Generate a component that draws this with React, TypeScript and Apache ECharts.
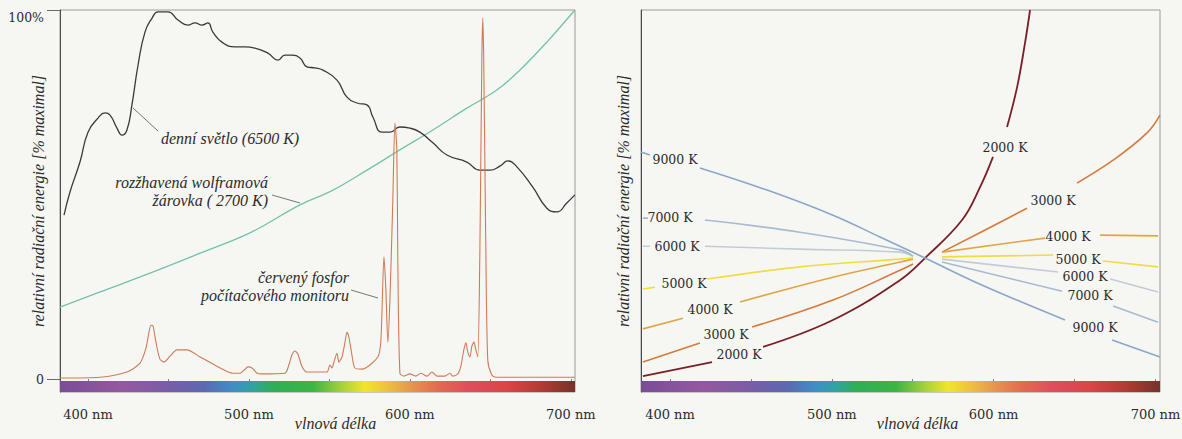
import React, { useEffect, useRef } from 'react';
import * as echarts from 'echarts';

// ---------- data ----------
const NM_TICKS = [400, 450, 500, 550, 600, 650, 700];
const NM_LABELS = [400, 500, 600, 700];
const Y_TICKS_LEFT = [0, 100];

// left panel: relative energy (% of maximum) vs wavelength (nm)
const DAYLIGHT: [number, number][] = [
  [385.1, 44.4], [388.8, 50.7], [395.0, 58.8], [400.0, 66.9], [406.2, 70.7], [410.6, 72.1],
  [413.7, 71.5], [418.0, 68.0], [421.1, 66.1], [424.2, 67.5], [427.3, 74.3], [431.1, 85.1],
  [435.4, 94.0], [439.8, 97.8], [443.5, 99.5], [449.7, 99.5], [455.9, 97.3], [462.1, 95.9],
  [466.5, 96.5], [470.8, 95.9], [474.5, 96.5], [477.6, 94.0], [483.2, 91.3], [491.3, 90.0],
  [497.5, 90.0], [503.7, 89.7], [511.8, 88.3], [518.0, 86.4], [522.4, 87.8], [526.7, 87.8],
  [531.7, 87.0], [536.0, 84.6], [541.0, 84.3], [546.0, 83.7], [554.7, 81.0], [560.9, 76.4],
  [567.1, 74.8], [573.3, 74.3], [577.0, 71.0], [582.6, 66.9], [587.6, 66.9], [593.8, 68.3],
  [600.0, 68.0], [606.2, 66.9], [614.3, 64.0], [623.0, 60.7], [635.4, 58.8], [643.5, 56.6],
  [649.7, 56.6], [655.9, 57.7], [660.9, 59.1], [666.5, 57.5], [676.4, 52.0], [685.1, 46.3],
  [691.3, 45.3], [697.5, 47.7], [702.5, 49.9],
];

const TUNGSTEN: [number, number][] = [
  [382.6, 19.5], [407.5, 23.6], [438.5, 28.7], [469.6, 34.1], [500.6, 39.6], [531.7, 47.2],
  [552.2, 51.2], [573.3, 56.6], [593.8, 62.1], [614.3, 67.5], [635.4, 73.4], [654.0, 78.3],
  [668.3, 83.7], [685.1, 91.3], [702.5, 100],
];

const PHOSPHOR: [number, number][] = [
  [382.6, 0.3], [407.5, 0.5], [424.2, 1.9], [432.3, 4.3], [436.0, 8.4], [437.9, 12.7],
  [439.1, 14.6], [440.4, 14.4], [442.2, 10.0], [444.7, 5.4], [447.2, 4.6], [450.9, 6.2],
  [455.3, 7.9], [461.5, 7.9], [469.6, 6.0], [480.1, 3.5], [490.1, 1.6], [494.4, 1.6],
  [496.9, 2.4], [499.4, 3.3], [501.9, 3.0], [505.0, 1.6], [508.1, 1.4], [522.4, 1.6],
  [524.8, 3.8], [526.7, 6.5], [528.6, 7.6], [530.4, 6.8], [532.9, 3.5], [536.0, 1.9],
  [548.4, 1.9], [550.3, 3.8], [551.6, 3.0], [552.8, 4.6], [554.7, 7.0], [555.9, 4.6],
  [557.8, 6.0], [559.6, 9.8], [560.9, 12.7], [562.1, 11.4], [564.0, 6.5], [565.8, 3.0],
  [570.2, 2.7], [580.1, 6.0], [582.0, 10.6], [583.9, 33.1], [585.1, 24.1], [586.3, 10.0],
  [587.6, 21.4], [589.4, 48.5], [590.7, 69.4], [591.9, 62.1], [592.5, 32.2], [593.8, 1.6],
  [596.3, 0.8], [600.0, 1.4], [603.7, 0.8], [606.8, 1.6], [610.6, 0.8], [613.7, 1.9],
  [616.8, 0.8], [621.7, 0.8], [624.8, 1.6], [626.7, 0.8], [629.8, 1.4], [631.7, 3.5],
  [633.5, 7.9], [634.8, 9.8], [636.0, 7.3], [637.3, 6.0], [638.5, 8.9], [639.8, 10.0],
  [641.0, 7.9], [642.2, 6.0], [643.5, 35.0], [644.7, 86.4], [645.3, 97.8], [645.9, 86.4],
  [647.2, 35.0], [648.4, 5.1], [650.9, 1.1], [653.4, 0.5], [702.5, 0.5],
];

// right panel: black-body curves (relative), null = gap in the drawn line
type P = [number, number] | null;
const BB_2000: P[] = [
  [383.3, 0.8], [426.0, 4.6], null, [457.5, 8.7], [500.7, 16.0], [542.1, 26.8], [557.6, 32.8],
  [580.5, 43.1], [591.6, 52.0], [599.6, 60.2], null, [608.3, 68.3], [614.5, 79.1], [619.4, 91.1], [622.5, 100],
];
const BB_3000: P[] = [
  [383.3, 4.6], [418.5, 9.8], null, [450.7, 14.1], [500.7, 21.4], [542.1, 29.5], [550.2, 31.2], null,
  [568.1, 34.4], [604.0, 42.5], [620.6, 46.3], null, [651.5, 53.1], [673.8, 59.3], [694.8, 66.7], [702.8, 71.5],
];
const BB_4000: P[] = [
  [383.3, 13.6], [408.0, 16.5], null, [443.3, 20.9], [500.7, 27.6], [542.1, 31.7], [550.2, 32.5], null,
  [568.1, 34.4], [631.8, 38.2], null, [665.8, 39.0], [701.6, 38.8],
];
const BB_5000: P[] = [
  [383.3, 24.4], [390.7, 24.9], null, [422.9, 27.1], [480.3, 30.4], [542.1, 32.5], [550.2, 32.8], null,
  [568.1, 33.1], [636.7, 33.6], null, [667.6, 32.0], [701.6, 30.4],
];
const BB_6000: P[] = [
  [383.3, 36.0], [387.6, 36.0], null, [421.6, 36.0], [480.3, 35.2], [542.1, 34.4], [550.2, 33.3], null,
  [568.1, 32.5], [639.8, 29.0], null, [672.0, 27.1], [701.6, 23.6],
];
const BB_7000: P[] = [
  [383.3, 43.6], [386.4, 43.6], null, [421.6, 43.1], [480.3, 39.8], [542.1, 35.0], [550.2, 33.3], null,
  [568.1, 31.7], [642.3, 23.8], null, [673.8, 19.8], [701.6, 15.4],
];
const BB_9000: P[] = [
  [382.1, 61.5], [387.6, 60.7], null, [418.5, 57.2], [460.0, 51.2], [500.7, 44.4], [529.8, 38.5],
  [557.6, 32.8], [591.6, 25.7], [644.1, 16.0], null, [673.2, 10.6], [702.8, 6.0],
];

const SPECTRUM: [number, string][] = [
  [382, '#7a4c98'], [420, '#94599f'], [450, '#7a5ca6'], [472, '#5c69b1'], [490, '#3f8ec6'],
  [503, '#30a4a0'], [515, '#2daf55'], [540, '#3db545'], [558, '#a8d23a'], [572, '#f2e52c'],
  [588, '#ecbb42'], [602, '#e6924e'], [618, '#e26a50'], [638, '#df4c5c'], [660, '#da4546'],
  [682, '#b13b34'], [703, '#74332a'],
];

// ---------- component ----------
const SERIF = 'DejaVu Serif';
const ITALIC = 'Liberation Serif';
const TXT = '#2b2b2b';

export default function App() {
  const ref = useRef<HTMLDivElement>(null);
  useEffect(() => {
    if (!ref.current) return;
    const chart = echarts.init(ref.current, null, { renderer: 'svg' });
    const L = { min: 382.6, max: 702.6 };
    const R = { min: 382.1, max: 702.8 };
    const grad = (r: { min: number; max: number }) =>
      new echarts.graphic.LinearGradient(0, 0, 1, 0,
        SPECTRUM.map(([nm, c]) => ({ offset: Math.min(1, Math.max(0, (nm - r.min) / (r.max - r.min))), color: c })));
    const xAxisBase = (r: { min: number; max: number }, idx: number, namePad: number) => ({
      type: 'value', gridIndex: idx, min: r.min, max: r.max, offset: 4,
      axisLine: { show: false },
      splitLine: { show: false },
      axisTick: { show: true, customValues: NM_TICKS, length: 9, lineStyle: { color: '#7a7a7a', width: 1 } },
      axisLabel: { customValues: NM_LABELS, formatter: (v: number) => `${v} nm`, margin: 12,
        fontFamily: SERIF, fontSize: 13, color: TXT },
      name: 'vlnová délka', nameLocation: 'middle', nameGap: 19, nameMoveOverlap: false,
      nameTextStyle: { fontFamily: ITALIC, fontStyle: 'italic', fontSize: 16, color: TXT, padding: [0, 0, 0, namePad] },
    });
    const yName = 'relativní radiační energie [% maximal]';
    const bbLine = (data: P[], color: string, width = 1.6) => ({
      type: 'line', xAxisIndex: 1, yAxisIndex: 1, data, smooth: 0.4, showSymbol: false, connectNulls: false,
      lineStyle: { color, width }, silent: true,
    });
    const tLabel = (text: string, x: number, y: number) => ({
      type: 'text', x, y,
      style: { text, fill: TXT, fontFamily: SERIF, fontSize: 12.5, align: 'center', verticalAlign: 'middle' },
    });
    const note = (text: string, x: number, y: number, align: string) => ({
      type: 'text', x, y,
      style: { text, fill: TXT, fontFamily: ITALIC, fontStyle: 'italic', fontSize: 16, align, verticalAlign: 'middle', lineHeight: 18 },
    });
    const leader = (x1: number, y1: number, x2: number, y2: number) => ({
      type: 'line', shape: { x1, y1, x2, y2 }, style: { stroke: '#555', lineWidth: 0.8 },
    });
    chart.setOption({
      animation: false,
      backgroundColor: '#f6f7f3',
      grid: [
        { left: 60, top: 10, width: 515, height: 382, show: true, borderColor: '#9a9a9a', borderWidth: 1, containLabel: false, outerBoundsMode: 'none' },
        { left: 641, top: 10, width: 519, height: 382, show: true, borderColor: '#9a9a9a', borderWidth: 1, containLabel: false, outerBoundsMode: 'none' },
      ],
      xAxis: [xAxisBase(L, 0, 36), xAxisBase(R, 1, 34)],
      yAxis: [
        {
          type: 'value', gridIndex: 0, min: -3.5, max: 100,
          axisLine: { show: true, lineStyle: { color: '#4a4a4a', width: 1 } },
          splitLine: { show: false },
          axisTick: { show: true, customValues: Y_TICKS_LEFT, length: 13, lineStyle: { color: '#6a6a6a' } },
          axisLabel: {
            customValues: Y_TICKS_LEFT, margin: 16,
            formatter: (v: number) => (v === 100 ? '{t|100%}' : '{z|0}'),
            rich: {
              t: { fontFamily: SERIF, fontSize: 12.5, color: TXT, lineHeight: 28, verticalAlign: 'bottom' },
              z: { fontFamily: SERIF, fontSize: 12.5, color: TXT },
            },
          },
          name: yName, nameLocation: 'middle', nameGap: 14, nameRotate: 90, nameMoveOverlap: false,
          nameTextStyle: { fontFamily: ITALIC, fontStyle: 'italic', fontSize: 16, color: TXT, padding: [0, 0, 0, 0] },
        },
        {
          type: 'value', gridIndex: 1, min: -3.5, max: 100,
          axisLine: { show: true, lineStyle: { color: '#4a4a4a', width: 1 } },
          splitLine: { show: false }, axisTick: { show: false }, axisLabel: { show: false },
          name: yName, nameLocation: 'middle', nameGap: 10, nameRotate: 90, nameMoveOverlap: false,
          nameTextStyle: { fontFamily: ITALIC, fontStyle: 'italic', fontSize: 16, color: TXT, padding: [0, 0, 0, 0] },
        },
      ],
      series: [
        {
          type: 'line', xAxisIndex: 0, yAxisIndex: 0, data: TUNGSTEN, smooth: 0.4, showSymbol: false,
          lineStyle: { color: '#72c2ad', width: 1.3 }, silent: true,
          markArea: { silent: true, itemStyle: { color: grad(L) }, data: [[{ coord: [L.min, -0.55] }, { coord: [L.max, -3.5] }]] },
        },
        {
          type: 'line', xAxisIndex: 0, yAxisIndex: 0, data: DAYLIGHT, smooth: 0.5, showSymbol: false,
          lineStyle: { color: '#3a3a3a', width: 1.3 }, silent: true,
        },
        {
          type: 'line', xAxisIndex: 0, yAxisIndex: 0, data: PHOSPHOR, smooth: 0.25, showSymbol: false,
          lineStyle: { color: '#cf7a56', width: 1.1 }, silent: true,
        },
        {
          ...bbLine(BB_2000, '#7a1f24', 1.8),
          markArea: { silent: true, itemStyle: { color: grad(R) }, data: [[{ coord: [R.min, -0.55] }, { coord: [R.max, -3.5] }]] },
        },
        bbLine(BB_3000, '#d57a3c'),
        bbLine(BB_4000, '#e0a645'),
        bbLine(BB_5000, '#f0dc3a'),
        bbLine(BB_6000, '#c3ccd6'),
        bbLine(BB_7000, '#a8bad0'),
        bbLine(BB_9000, '#8aa6c8'),
      ],
      graphic: [
        note('denní světlo (6500 K)', 161, 138, 'left'),
        leader(133, 108, 158, 131),
        note('rozžhavená wolframová\nžárovka ( 2700 K)', 268, 191, 'right'),
        leader(272, 195, 300, 203),
        note('červený fosfor\npočítačového monitoru', 349, 286, 'right'),
        leader(351, 290, 378, 298),
        tLabel('9000 K', 675, 159),
        tLabel('7000 K', 670, 217),
        tLabel('6000 K', 677, 246),
        tLabel('5000 K', 684, 283),
        tLabel('4000 K', 710, 309),
        tLabel('3000 K', 726, 334),
        tLabel('2000 K', 739, 354),
        tLabel('2000 K', 1005, 147),
        tLabel('3000 K', 1053, 200),
        tLabel('4000 K', 1068, 236),
        tLabel('5000 K', 1078, 259),
        tLabel('6000 K', 1085, 276),
        tLabel('7000 K', 1090, 295),
        tLabel('9000 K', 1095, 327),
      ],
    });
    return () => chart.dispose();
  }, []);
  return <div ref={ref} style={{ position: 'absolute', left: 0, top: 0, width: 1182, height: 439 }} />;
}
